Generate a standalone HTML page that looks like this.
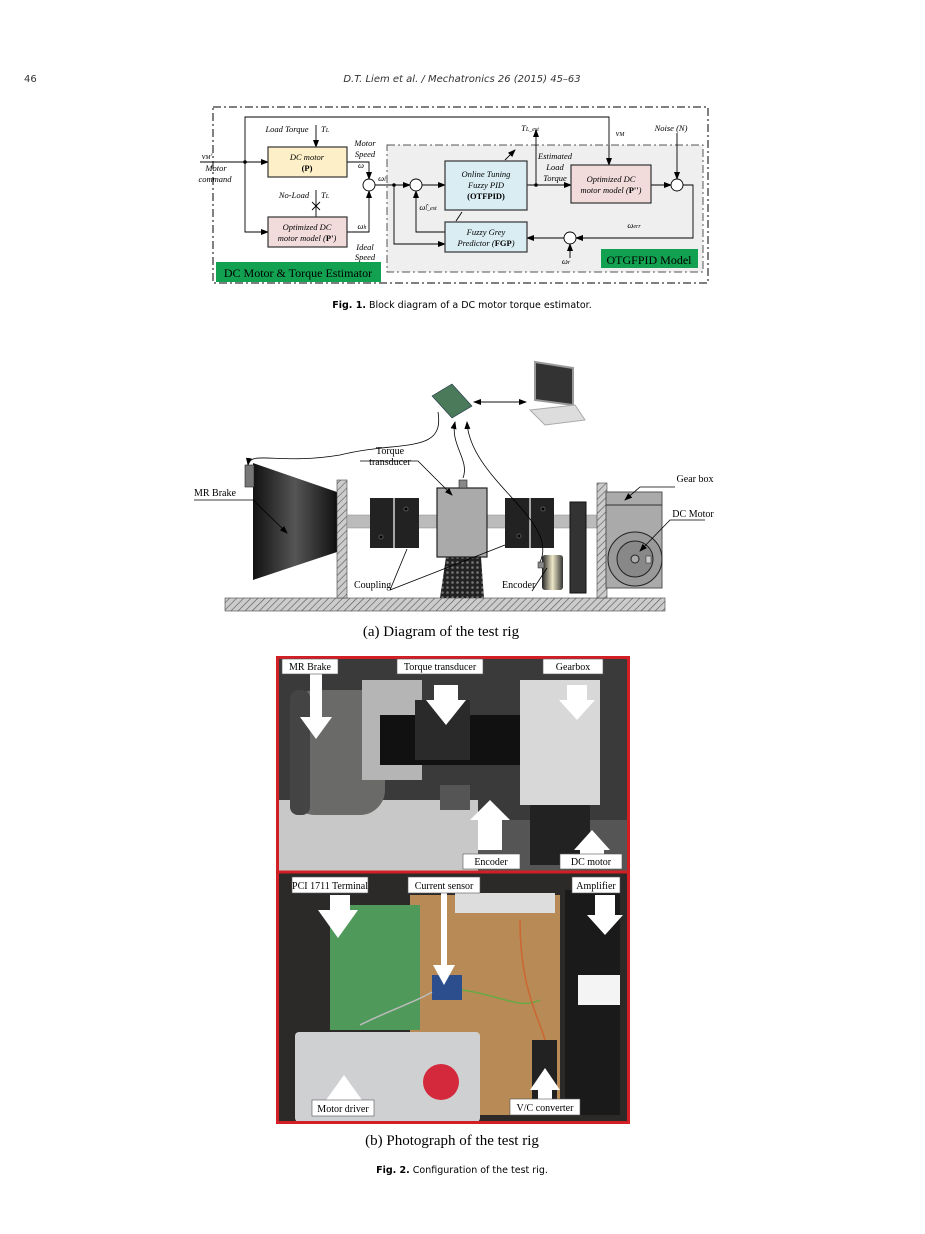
<!DOCTYPE html>
<html><head><meta charset="utf-8"><style>
body{margin:0;background:#fff;}
svg{display:block}
.s{font-family:"Liberation Serif",serif;}
.a{font-family:"DejaVu Sans","Liberation Sans",sans-serif;}
</style></head><body>
<svg width="925" height="1234" viewBox="0 0 925 1234" xmlns="http://www.w3.org/2000/svg">
<defs>
<marker id="ar" markerWidth="8" markerHeight="8" refX="7" refY="4" orient="auto" markerUnits="userSpaceOnUse"><path d="M0,1 L8,4 L0,7z" fill="#000"/></marker>
<pattern id="hat" width="5" height="5" patternUnits="userSpaceOnUse" patternTransform="rotate(45)"><rect width="5" height="5" fill="#ccc"/><line x1="0" y1="0" x2="0" y2="5" stroke="#555" stroke-width="1.2"/></pattern>
<pattern id="dots" width="5" height="5" patternUnits="userSpaceOnUse"><rect width="5" height="5" fill="#222"/><circle cx="2.5" cy="2.5" r="1.3" fill="#777"/></pattern>
<linearGradient id="brk" x1="0" x2="1"><stop offset="0" stop-color="#111"/><stop offset="0.5" stop-color="#555"/><stop offset="1" stop-color="#111"/></linearGradient>
<linearGradient id="enc" x1="0" x2="1"><stop offset="0" stop-color="#222"/><stop offset="0.5" stop-color="#eee8c8"/><stop offset="1" stop-color="#333"/></linearGradient>
</defs>
<!-- header -->
<text x="24" y="82" class="a" font-size="10" fill="#333">46</text>
<text x="462" y="82" class="a" font-size="10" font-style="italic" text-anchor="middle" fill="#333">D.T. Liem et al. / Mechatronics 26 (2015) 45–63</text>

<!-- Block diagram -->
<rect x="213" y="107" width="495" height="176" fill="none" stroke="#000" stroke-width="1" stroke-dasharray="8,3,2,3"/>
<rect x="387" y="145" width="316" height="127" fill="#efefef" stroke="#555" stroke-width="1" stroke-dasharray="8,3,2,3"/>
<rect x="216" y="262" width="165" height="20" fill="#12a150"/>
<text x="298" y="277" class="s" font-size="12" text-anchor="middle">DC Motor &amp; Torque Estimator</text>
<rect x="601" y="249" width="97" height="19" fill="#12a150"/>
<text x="649" y="264" class="s" font-size="12" text-anchor="middle">OTGFPID Model</text>

<g stroke="#000" stroke-width="0.9" fill="none">
<line x1="200" y1="162" x2="268" y2="162" marker-end="url(#ar)"/>
<polyline points="245,162 245,117 609,117 609,165" marker-end="url(#ar)"/>
<polyline points="245,162 245,232 268,232" marker-end="url(#ar)"/>
<line x1="316" y1="125" x2="316" y2="147" marker-end="url(#ar)"/>
<line x1="316" y1="190" x2="316" y2="217" />
<line x1="312" y1="202" x2="320" y2="210"/><line x1="320" y1="202" x2="312" y2="210"/>
<polyline points="347,162 369,162 369,179" marker-end="url(#ar)"/>
<polyline points="347,232 369,232 369,191" marker-end="url(#ar)"/>
<line x1="375" y1="185" x2="410" y2="185" marker-end="url(#ar)"/>
<line x1="422" y1="185" x2="445" y2="185" marker-end="url(#ar)"/>
<polyline points="394,185 394,244 445,244" marker-end="url(#ar)"/>
<polyline points="445,232 416,232 416,191" marker-end="url(#ar)"/>
<line x1="527" y1="185" x2="571" y2="185" marker-end="url(#ar)"/>
<line x1="536" y1="185" x2="536" y2="130" marker-end="url(#ar)"/>
<line x1="505" y1="160" x2="515" y2="150" marker-end="url(#ar)"/>
<line x1="456" y1="221" x2="462" y2="212"/>
<line x1="651" y1="185" x2="671" y2="185" marker-end="url(#ar)"/>
<line x1="677" y1="133" x2="677" y2="179" marker-end="url(#ar)"/>
<polyline points="683,185 693,185 693,238 576,238" marker-end="url(#ar)"/>
<line x1="564" y1="238" x2="527" y2="238" marker-end="url(#ar)"/>
<line x1="570" y1="258" x2="570" y2="244" marker-end="url(#ar)"/>
</g>
<circle cx="245" cy="162" r="1.8"/><circle cx="394" cy="185" r="1.8"/><circle cx="536" cy="185" r="1.8"/>
<g fill="#fff" stroke="#000" stroke-width="0.9">
<circle cx="369" cy="185" r="6"/><circle cx="416" cy="185" r="6"/><circle cx="677" cy="185" r="6"/><circle cx="570" cy="238" r="6"/>
</g>
<g stroke="#333" stroke-width="1.2">
<rect x="268" y="147" width="79" height="30" fill="#fdf0c8"/>
<rect x="268" y="217" width="79" height="30" fill="#f1dcdb"/>
<rect x="445" y="161" width="82" height="49" fill="#daedf3"/>
<rect x="445" y="222" width="82" height="30" fill="#daedf3"/>
<rect x="571" y="165" width="80" height="38" fill="#f1dcdb"/>
</g>
<g class="s" font-size="8.5" font-style="italic" text-anchor="middle">
<text x="307" y="160">DC motor</text><text x="307" y="171" font-style="normal" font-weight="bold">(P)</text>
<text x="307" y="230">Optimized DC</text><text x="307" y="241">motor model (<tspan font-weight="bold" font-style="normal">P'</tspan>)</text>
<text x="486" y="177">Online Tuning</text><text x="486" y="188">Fuzzy PID</text><text x="486" y="199" font-style="normal" font-weight="bold">(OTFPID)</text>
<text x="486" y="235">Fuzzy Grey</text><text x="486" y="246">Predictor (<tspan font-weight="bold" font-style="normal">FGP</tspan>)</text>
<text x="611" y="182">Optimized DC</text><text x="611" y="193">motor model (<tspan font-weight="bold" font-style="normal">P''</tspan>)</text>
<text x="287" y="132">Load Torque</text><text x="325" y="132">T<tspan font-size="6">L</tspan></text>
<text x="365" y="146">Motor</text><text x="365" y="157">Speed</text><text x="361" y="168">ω</text>
<text x="216" y="171">Motor</text><text x="215" y="182">command</text><text x="207" y="159">v<tspan font-size="6">M</tspan>'</text>
<text x="294" y="198">No-Load</text><text x="325" y="198">T<tspan font-size="6">L</tspan></text>
<text x="362" y="229">ω<tspan font-size="6">h</tspan></text>
<text x="365" y="250">Ideal</text><text x="365" y="260">Speed</text>
<text x="382" y="181">ω<tspan font-size="6">l</tspan></text>
<text x="428" y="210">ω̂<tspan font-size="6">l_est</tspan></text>
<text x="530" y="131">T<tspan font-size="6">L_est</tspan></text>
<text x="555" y="159">Estimated</text><text x="555" y="170">Load</text><text x="555" y="181">Torque</text>
<text x="620" y="136">v<tspan font-size="6">M</tspan></text>
<text x="671" y="131">Noise (N)</text>
<text x="634" y="228">ω<tspan font-size="6">err</tspan></text>
<text x="566" y="264">ω<tspan font-size="6">r</tspan></text>
</g>
<text x="462" y="308" class="a" font-size="9.5" text-anchor="middle"><tspan font-weight="bold">Fig. 1.</tspan> Block diagram of a DC motor torque estimator.</text>

<!-- Test rig diagram -->
<rect x="225" y="598" width="440" height="13" fill="url(#hat)" stroke="#444" stroke-width="0.6"/>
<polygon points="253,463 337,492 337,552 253,580" fill="url(#brk)"/>
<rect x="334" y="492" width="5" height="60" fill="#111"/>
<rect x="245" y="465" width="9" height="22" fill="#777" stroke="#222" stroke-width="0.6"/>
<rect x="337" y="480" width="10" height="118" fill="url(#hat)" stroke="#444" stroke-width="0.6"/>
<rect x="347" y="515" width="250" height="13" fill="#bbb" stroke="#888" stroke-width="0.5"/>
<rect x="370" y="498" width="49" height="50" fill="#222"/><line x1="394" y1="498" x2="394" y2="548" stroke="#fff" stroke-width="1.2"/>
<circle cx="381" cy="537" r="2" fill="#000" stroke="#555"/><circle cx="406" cy="509" r="2" fill="#000" stroke="#555"/>
<rect x="505" y="498" width="49" height="50" fill="#222"/><line x1="530" y1="498" x2="530" y2="548" stroke="#fff" stroke-width="1.2"/>
<circle cx="519" cy="536" r="2" fill="#000" stroke="#555"/><circle cx="543" cy="509" r="2" fill="#000" stroke="#555"/>
<polygon points="446,557 481,557 484,598 440,598" fill="url(#dots)"/>
<rect x="437" y="488" width="50" height="69" fill="#aaa" stroke="#222" stroke-width="1.2"/>
<rect x="459" y="480" width="8" height="8" fill="#888" stroke="#222" stroke-width="0.6"/>
<rect x="570" y="502" width="16" height="91" fill="#333" stroke="#111"/>
<rect x="542" y="555" width="21" height="35" fill="url(#enc)" rx="3"/>
<rect x="538" y="562" width="6" height="6" fill="#888" stroke="#222" stroke-width="0.5"/>
<rect x="597" y="483" width="10" height="115" fill="url(#hat)" stroke="#444" stroke-width="0.6"/>
<rect x="606" y="492" width="56" height="96" fill="#aaa" stroke="#555"/>
<line x1="606" y1="505" x2="662" y2="505" stroke="#333"/>
<circle cx="635" cy="559" r="27" fill="#999" stroke="#222"/><circle cx="635" cy="559" r="18" fill="#888" stroke="#222"/><circle cx="635" cy="559" r="4" fill="#aaa" stroke="#222"/>
<rect x="646" y="556" width="5" height="7" fill="#ccc" stroke="#222" stroke-width="0.5"/>
<!-- PCI card & PC -->
<polygon points="432,396 452,384 472,406 452,418" fill="#4a7a5a" stroke="#234" stroke-width="0.6"/>
<polygon points="535,362 573,368 573,405 535,400" fill="#333" stroke="#999" stroke-width="2"/>
<polygon points="530,410 575,405 585,420 545,425" fill="#ddd" stroke="#aaa"/>
<g stroke="#000" stroke-width="0.8" fill="none">
<line x1="474" y1="402" x2="526" y2="402" marker-end="url(#ar)"/><line x1="526" y1="402" x2="474" y2="402" marker-end="url(#ar)"/>
<path d="M438,412 C445,455 400,440 340,455 C280,465 250,450 248,465" marker-end="url(#ar)"/>
<path d="M463,478 C470,460 450,445 455,422" marker-end="url(#ar)"/>
<path d="M540,562 C560,520 470,480 467,422" marker-end="url(#ar)"/>
<polyline points="194,500 253,500 287,533" marker-end="url(#ar)"/>
<polyline points="360,461 418,461 452,495" marker-end="url(#ar)"/>
<polyline points="675,487 640,487 625,500" marker-end="url(#ar)"/>
<polyline points="705,520 670,520 640,551" marker-end="url(#ar)"/>
<line x1="390" y1="590" x2="407" y2="549"/><line x1="390" y1="590" x2="505" y2="545"/>
<line x1="532" y1="591" x2="547" y2="568"/>
</g>
<g class="s" font-size="10">
<text x="194" y="496">MR Brake</text>
<text x="390" y="454" text-anchor="middle">Torque</text><text x="390" y="465" text-anchor="middle">transducer</text>
<text x="695" y="482" text-anchor="middle">Gear box</text>
<text x="693" y="517" text-anchor="middle">DC Motor</text>
<text x="354" y="588">Coupling</text>
<text x="502" y="588">Encoder</text>
</g>
<text x="441" y="636" class="s" font-size="15" text-anchor="middle">(a) Diagram of the test rig</text>

<!-- Photograph -->
<rect x="278" y="658" width="350" height="214" fill="#3a3a3a"/>
<rect x="278" y="800" width="200" height="72" fill="#c8c8c8"/>
<rect x="478" y="820" width="150" height="52" fill="#555"/>
<rect x="290" y="690" width="95" height="125" rx="25" fill="#6a6a68"/>
<rect x="290" y="690" width="20" height="125" rx="8" fill="#444"/>
<rect x="362" y="680" width="60" height="100" fill="#b5b5b5"/>
<rect x="380" y="715" width="145" height="50" fill="#111"/>
<rect x="415" y="700" width="55" height="60" fill="#2a2a2a"/>
<rect x="440" y="785" width="30" height="25" fill="#555"/>
<rect x="520" y="680" width="80" height="125" fill="#d8d8d8"/>
<rect x="530" y="805" width="60" height="60" fill="#222"/>
<rect x="278" y="873" width="350" height="250" fill="#2b2a28"/>
<rect x="410" y="895" width="150" height="220" fill="#b88a55"/>
<rect x="455" y="893" width="100" height="20" fill="#ddd"/>
<rect x="330" y="905" width="90" height="125" fill="#4f9a5a"/>
<rect x="565" y="890" width="55" height="225" fill="#1a1a1a"/>
<rect x="578" y="975" width="42" height="30" fill="#f4f4f4"/>
<rect x="295" y="1032" width="185" height="90" rx="4" fill="#cfd0d2"/>
<circle cx="441" cy="1082" r="18" fill="#d4283c"/>
<rect x="532" y="1040" width="25" height="70" fill="#222"/>
<rect x="432" y="975" width="30" height="25" fill="#2c4e8c"/>
<g fill="none" stroke-width="1.5"><path d="M462,990 C500,995 520,1010 540,1000" stroke="#6a4"/><path d="M520,920 C520,990 540,1020 545,1040" stroke="#c63"/><path d="M360,1025 C390,1010 420,1000 432,992" stroke="#bbb"/></g>
<rect x="277.5" y="657.5" width="351" height="465" fill="none" stroke="#d21f26" stroke-width="3"/>
<line x1="278" y1="872" x2="628" y2="872" stroke="#d21f26" stroke-width="3"/>
<g fill="#fff">
<polygon points="300,695 316,673 332,695 322,695 322,740 310,740 310,695" transform="rotate(180 316 706)"/>
<polygon points="434,685 458,685 458,700 466,700 446,725 426,700 434,700"/>
<polygon points="567,685 587,685 587,700 595,700 577,720 559,700 567,700"/>
<polygon points="490,800 510,820 502,820 502,850 478,850 478,820 470,820"/>
<polygon points="592,830 610,850 604,850 604,855 580,855 580,850 574,850"/>
<polygon points="330,895 350,895 350,910 358,910 338,938 318,910 330,910"/>
<polygon points="441,890 447,890 447,965 455,965 444,985 433,965 441,965"/>
<polygon points="595,895 615,895 615,915 623,915 605,935 587,915 595,915"/>
<polygon points="344,1075 362,1100 352,1100 352,1102 336,1102 336,1100 326,1100"/>
<polygon points="545,1068 560,1090 552,1090 552,1100 538,1100 538,1090 530,1090"/>
</g>
<g fill="#fff" stroke="#555" stroke-width="0.6">
<rect x="282" y="659" width="56" height="15"/>
<rect x="397" y="659" width="86" height="15"/>
<rect x="543" y="659" width="60" height="15"/>
<rect x="463" y="854" width="57" height="15"/>
<rect x="560" y="854" width="62" height="15"/>
<rect x="292" y="877" width="76" height="16"/>
<rect x="408" y="877" width="72" height="16"/>
<rect x="572" y="877" width="48" height="16"/>
<rect x="312" y="1100" width="62" height="16"/>
<rect x="510" y="1099" width="70" height="16"/>
</g>
<g class="s" font-size="10" text-anchor="middle">
<text x="310" y="670">MR Brake</text>
<text x="440" y="670">Torque transducer</text>
<text x="573" y="670">Gearbox</text>
<text x="491" y="865">Encoder</text>
<text x="591" y="865">DC motor</text>
<text x="330" y="889">PCI 1711 Terminal</text>
<text x="444" y="889">Current sensor</text>
<text x="596" y="889">Amplifier</text>
<text x="343" y="1112">Motor driver</text>
<text x="545" y="1111">V/C converter</text>
</g>
<text x="452" y="1145" class="s" font-size="15" text-anchor="middle">(b) Photograph of the test rig</text>
<text x="462" y="1173" class="a" font-size="9.5" text-anchor="middle"><tspan font-weight="bold">Fig. 2.</tspan> Configuration of the test rig.</text>
</svg>
</body></html>
